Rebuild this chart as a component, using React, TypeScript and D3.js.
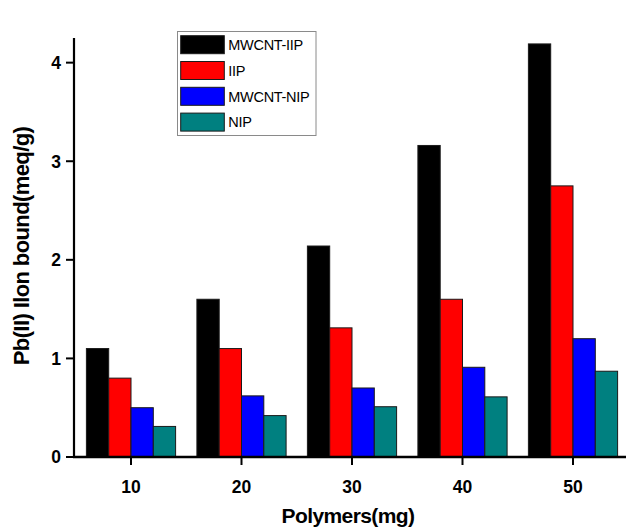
import React from "react";
import * as d3 from "d3";

// Polymer dose on the x axis (mg)
const doses = [10, 20, 30, 40, 50];
const doseLabels = ["10", "20", "30", "40", "50"];

// Pb(II) ion bound (meq/g) per polymer type
const seriesNames = ["MWCNT-IIP", "IIP", "MWCNT-NIP", "NIP"];
const mwcntIip = [1.1, 1.6, 2.14, 3.16, 4.19];
const iip = [0.8, 1.1, 1.31, 1.6, 2.75];
const mwcntNip = [0.5, 0.62, 0.7, 0.91, 1.2];
const nip = [0.31, 0.42, 0.51, 0.61, 0.87];
const seriesColors = ["#000000", "#ff0000", "#0000ff", "#008080"];

const yTicks = [0, 1, 2, 3, 4];

const W = 626;
const H = 527;
const FONT = "Arial, 'Liberation Sans', Helvetica, sans-serif";

export default function App() {
  const series = [mwcntIip, iip, mwcntNip, nip];

  const axisX = 74;
  const axisY = 457;
  const axisTop = 38;

  const x = d3.scaleLinear().domain([10, 50]).range([131, 573]);
  const y = d3.scaleLinear().domain([0, 4.25]).range([axisY, axisTop]);

  const barW = 22.3;
  const groupW = barW * series.length;

  const legendX = 177.5;
  const legendY = 31.5;
  const rowStep = 25.8;

  return (
    <svg
      width={W}
      height={H}
      viewBox={`0 0 ${W} ${H}`}
      style={{ position: "absolute", left: 0, top: 0, background: "#fff" }}
      fontFamily={FONT}
    >
      {/* bars */}
      {doses.map((d, i) =>
        series.map((s, k) => {
          const x0 = x(d) - groupW / 2 + k * barW;
          return (
            <rect
              key={`${i}-${k}`}
              x={x0}
              y={y(s[i])}
              width={barW}
              height={axisY - y(s[i])}
              fill={seriesColors[k]}
              stroke="#1a1a1a"
              strokeWidth={1}
            />
          );
        })
      )}

      {/* y axis */}
      <line x1={axisX} y1={axisTop} x2={axisX} y2={axisY + 1} stroke="#000" strokeWidth={2.2} />
      {yTicks.map((t) => (
        <g key={t}>
          <line x1={axisX - 8} x2={axisX} y1={y(t)} y2={y(t)} stroke="#000" strokeWidth={2} />
          <text
            x={axisX - 13}
            y={y(t)}
            dy="0.36em"
            textAnchor="end"
            fontSize={17.5}
            fontWeight="bold"
          >
            {t}
          </text>
        </g>
      ))}

      {/* x axis */}
      <line x1={axisX - 1} y1={axisY} x2={W} y2={axisY} stroke="#000" strokeWidth={2.5} />
      {doses.map((d, i) => (
        <g key={d}>
          <line x1={x(d)} x2={x(d)} y1={axisY} y2={axisY + 8} stroke="#000" strokeWidth={2} />
          <text x={x(d)} y={axisY + 36} textAnchor="middle" fontSize={17.5} fontWeight="bold">
            {doseLabels[i]}
          </text>
        </g>
      ))}

      {/* axis titles */}
      <text
        x={(axisX + W) / 2 - 2}
        y={523}
        textAnchor="middle"
        fontSize={21}
        fontWeight="bold"
        letterSpacing={-0.6}
      >
        Polymers(mg)
      </text>
      <text
        transform={`translate(29, ${246}) rotate(-90)`}
        textAnchor="middle"
        fontSize={22}
        fontWeight="bold"
        letterSpacing={-0.6}
      >
        Pb(II) Ilon bound(meq/g)
      </text>

      {/* legend */}
      <rect
        x={legendX}
        y={legendY}
        width={138.5}
        height={104}
        fill="#fff"
        stroke="#8a8a8a"
        strokeWidth={1}
      />
      {seriesNames.map((name, k) => (
        <g key={name}>
          <rect
            x={180.7}
            y={35.7 + k * rowStep}
            width={43.6}
            height={18}
            fill={seriesColors[k]}
            stroke="#1a1a1a"
            strokeWidth={1}
          />
          <text x={228.3} y={35.7 + k * rowStep + 9} dy="0.36em" fontSize={14.5} letterSpacing={-0.3}>
            {name}
          </text>
        </g>
      ))}
    </svg>
  );
}
